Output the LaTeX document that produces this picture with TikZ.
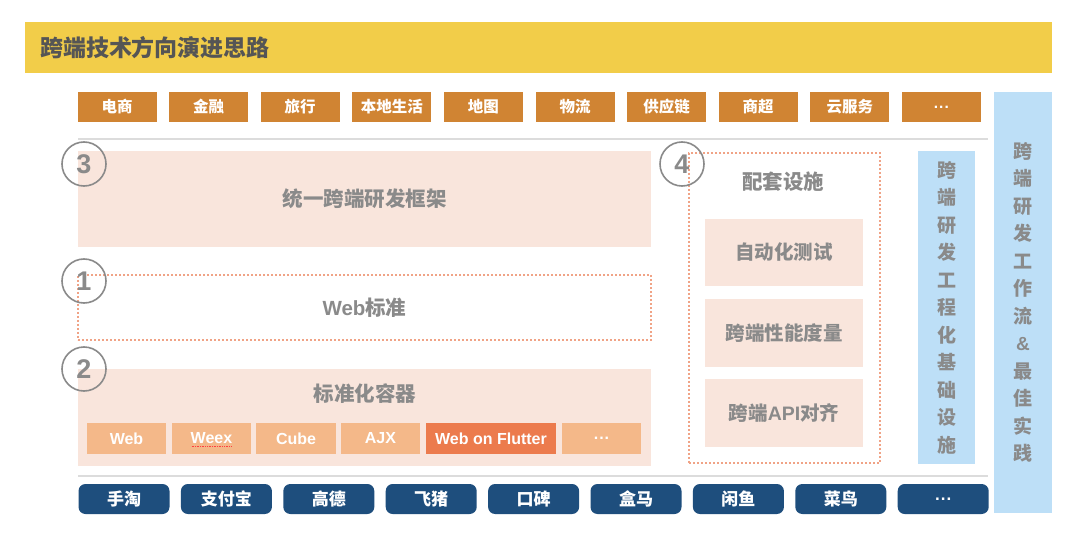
\documentclass[tikz,border=0pt]{standalone}
\usepackage{fontspec}
\setmainfont{Noto Sans CJK SC}
\newfontfamily\lat{Liberation Sans}
\definecolor{cyellow}{HTML}{F2CD49}
\definecolor{ctop}{HTML}{D08433}
\definecolor{cpeach}{HTML}{F9E5DC}
\definecolor{cblue}{HTML}{BDDFF7}
\definecolor{cnavy}{HTML}{1E4E7D}
\definecolor{cchip}{HTML}{F4B889}
\definecolor{cchipdark}{HTML}{EC7B4D}
\definecolor{cgray}{HTML}{8A8A8A}
\definecolor{ctitle}{HTML}{555555}
\definecolor{cdot}{HTML}{F0A386}
\definecolor{cline}{HTML}{DCDCDC}
\newcommand\mydots{{\lat\bfseries .\kern1pt.\kern1pt.}}
\begin{document}
\begin{tikzpicture}[x=1pt,y=-1pt,
  every node/.style={inner sep=0pt},
  topbox/.style={fill=ctop, text=white, minimum width=79pt, minimum height=30pt, font=\fontsize{15.5pt}{18pt}\selectfont\bfseries},
  botbox/.style={fill=cnavy, rounded corners=7pt, text=white, minimum width=91pt, minimum height=30pt, font=\fontsize{17pt}{20pt}\selectfont\bfseries},
  peachbox/.style={fill=cpeach},
  graytext/.style={text=cgray, font=\fontsize{20.5pt}{24pt}\selectfont\bfseries},
  subtext/.style={text=cgray, font=\fontsize{19.5pt}{23pt}\selectfont\bfseries},
  numcirc/.style={circle, draw=cgray, line width=1.6pt, minimum size=44pt, text=cgray, font=\lat\fontsize{27pt}{29pt}\selectfont\bfseries},
  chip/.style={fill=cchip, text=white, minimum height=31pt, font=\lat\fontsize{16pt}{18pt}\selectfont\bfseries},
  dotbox/.style={draw=cdot, line width=1.6pt, dash pattern=on 1.6pt off 2.4pt},
  vbar/.style={fill=cblue, text=cgray, align=center, font=\fontsize{19pt}{27.5pt}\selectfont\bfseries},
  sepline/.style={draw=cline, line width=1.5pt}
]
\useasboundingbox[fill=white] (0,0) rectangle (1080,535);

% title
\node[fill=cyellow, minimum height=51pt, text width=997pt, inner xsep=15pt, align=left,
      text=ctitle, font=\fontsize{23pt}{26pt}\selectfont\bfseries] (title) at (538.5,47.5) {跨端技术方向演进思路};

% top business boxes
\foreach \t [count=\i from 0] in {电商,金融,旅行,本地生活,地图,物流,供应链,商超,云服务,\mydots}
  \node[topbox] (top\i) at ({117+91.6*\i},107) {\t};

\coordinate (l1a) at (78,139); \coordinate (l1b) at (988,139);
\draw[sepline] (l1a) -- (l1b);

% box 3
\node[peachbox, minimum width=573pt, minimum height=96pt, graytext] (fw) at (364.5,198.5) {统一跨端研发框架};

% Web standard
\node[dotbox, minimum width=573pt, minimum height=65pt, graytext] (web) at (364.5,307.5) {{\lat\bfseries Web}标准};

% container box
\node[peachbox, minimum width=573pt, minimum height=97pt] (cont) at (364.5,417.5) {};
\node[graytext] (conttitle) at (365,394) {标准化容器};
\node[chip, minimum width=79pt] (c1) at (126.5,438.5) {Web};
\node[chip, minimum width=79pt] (c2) at (211.5,438.5) {Weex};
\node[chip, minimum width=80pt] (c3) at (296,438.5) {Cube};
\node[chip, minimum width=79pt] (c4) at (380.5,438.5) {AJX};
\node[chip, minimum width=130pt, fill=cchipdark] (c5) at (491,438.5) {Web on Flutter};
\node[chip, minimum width=79pt] (c6) at (601.5,438.5) {\mydots};
\draw[red!75, line width=0.8pt, dash pattern=on 0.8pt off 0.9pt] ([xshift=-20pt,yshift=8pt]c2.south) -- ([xshift=20pt,yshift=8pt]c2.south);

% number circles
\node[numcirc] (n3) at (84,164) {3};
\node[numcirc] (n1) at (84,281) {1};
\node[numcirc] (n2) at (84,369) {2};

% box 4
\node[dotbox, minimum width=191pt, minimum height=310pt] (infra) at (784.5,308) {};
\node[numcirc] (n4) at (682,164) {4};
\node[graytext] (infratitle) at (783,182) {配套设施};
\node[peachbox, subtext, minimum width=158pt, minimum height=67pt] (s1) at (784,252.5) {自动化测试};
\node[peachbox, subtext, minimum width=158pt, minimum height=68pt] (s2) at (784,333) {跨端性能度量};
\node[peachbox, subtext, minimum width=158pt, minimum height=68pt] (s3) at (784,413) {跨端{\lat\bfseries API}对齐};

% vertical bars
\node[vbar, minimum width=57pt, minimum height=313pt] (vb1) at (946.5,307.5)
  {跨\\端\\研\\发\\工\\程\\化\\基\\础\\设\\施};
\node[vbar, minimum width=58pt, minimum height=421pt] (vb2) at (1023,302.5)
  {跨\\端\\研\\发\\工\\作\\流\\{\lat\bfseries\&}\\最\\佳\\实\\践};

\coordinate (l2a) at (78,476); \coordinate (l2b) at (988,476);
\draw[sepline] (l2a) -- (l2b);

% bottom app boxes
\foreach \t [count=\i from 0] in {手淘,支付宝,高德,飞猪,口碑,盒马,闲鱼,菜鸟,\mydots}
  \node[botbox] (bot\i) at ({124+102.4*\i},499) {\t};
\end{tikzpicture}
\end{document}
